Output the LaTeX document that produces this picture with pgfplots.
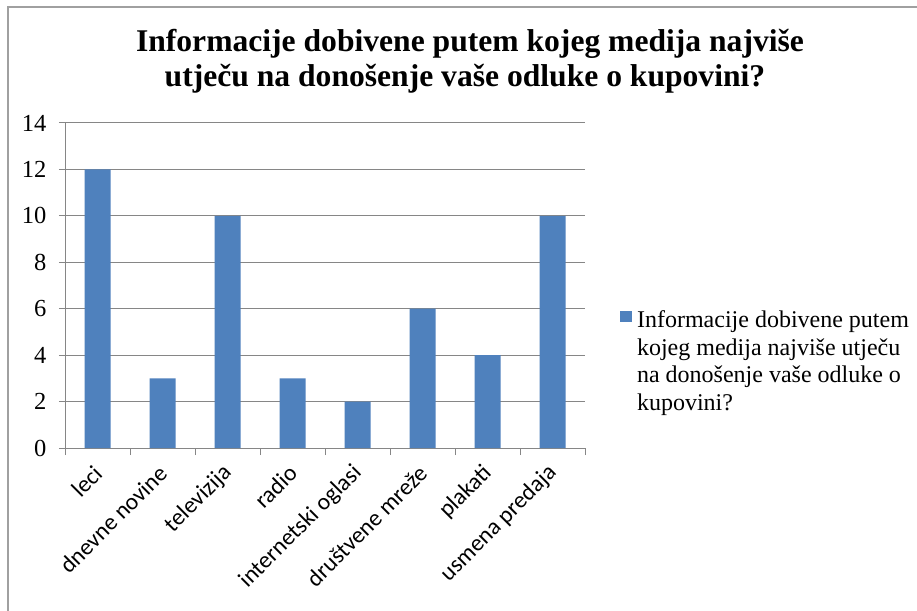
\documentclass[border=0pt]{standalone}
\usepackage{fontspec}
\setmainfont{Liberation Serif}
\newfontfamily\carlito{Carlito}
\usepackage{pgfplots}
\pgfplotsset{compat=1.18}
\definecolor{barblue}{HTML}{4F81BD}
\definecolor{gridgray}{HTML}{868686}
\definecolor{framegray}{HTML}{A0A0A0}
\begin{document}
\begin{tikzpicture}[x=1pt,y=1pt]
\useasboundingbox (0,0) rectangle (917,610);
\fill[white] (0,0) rectangle (917,610);
\draw[framegray, line width=2pt] (8,-2) -- (8,603) -- (919,603);
\node[anchor=base, inner sep=0pt, font=\fontsize{31.6}{36}\selectfont\bfseries] at (470,558) {Informacije dobivene putem kojeg medija najviše};
\node[anchor=base, inner sep=0pt, font=\fontsize{31.6}{36}\selectfont\bfseries] at (465,523) {utječu na donošenje vaše odluke o kupovini?};
\begin{axis}[
  at={(65pt,162pt)}, anchor=south west,
  scale only axis, width=520pt, height=325pt,
  ybar, bar width=26pt,
  ymin=0, ymax=14, ytick={0,2,...,14},
  xmin=-0.5, xmax=7.5,
  xtick={0,...,7},
  xticklabels={leci, dnevne novine, televizija, radio, internetski oglasi, društvene mreže, plakati, usmena predaja},
  minor xtick={-0.5,0.5,...,7.5},
  major x tick style={draw=none},
  tick align=outside,
  major tick length=6pt, minor tick length=7pt,
  ymajorgrids, grid style={gridgray, line width=1pt},
  axis x line*=bottom, axis y line*=left,
  axis line style={gridgray, line width=1pt},
  tick style={gridgray, line width=1pt},
  /pgf/number format/assume math mode=true,
  yticklabel style={font=\fontsize{24.5}{24.5}\selectfont, xshift=-9pt},
  xticklabel style={font=\carlito\fontsize{23.5}{23.5}\selectfont, xshift=3pt, yshift=-13pt, rotate=45, anchor=east},
  legend style={at={(1.067,0.422)}, anchor=north west, draw=none, fill=none,
    font=\fontsize{24}{27.4}\selectfont, inner sep=0pt, column sep=5pt,
    nodes={align=left, inner sep=0pt}},
  legend cell align=left,
  legend image code/.code={\fill[barblue] (0pt,39pt) rectangle (12pt,50pt);},
]
\addplot[fill=barblue, draw=none] coordinates {(0,12) (1,3) (2,10) (3,3) (4,2) (5,6) (6,4) (7,10)};
\addlegendentry{Informacije dobivene putem\\kojeg medija najviše utječu\\na donošenje vaše odluke o\\kupovini?}
\end{axis}
\end{tikzpicture}
\end{document}
